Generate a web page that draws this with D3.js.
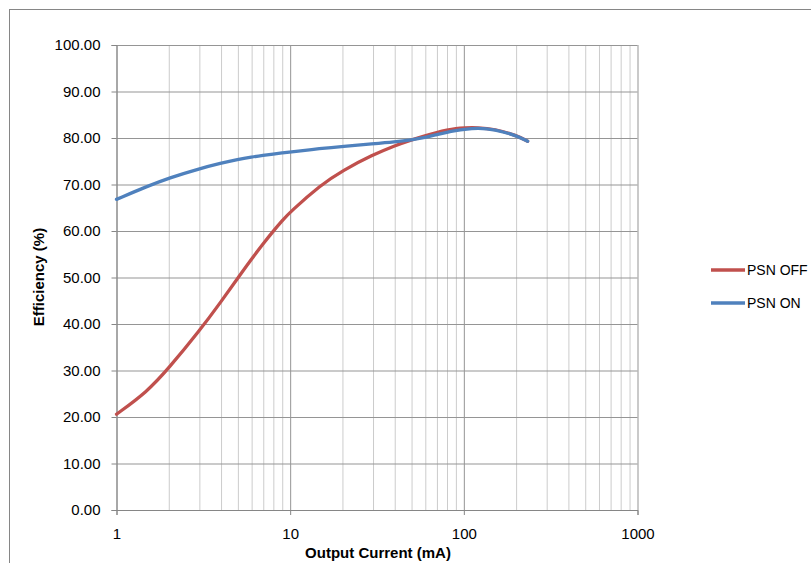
<!DOCTYPE html>
<html>
<head>
<meta charset="utf-8">
<script src="https://cdn.jsdelivr.net/npm/d3@7"></script>
<style>
  html, body { margin: 0; padding: 0; background: #fff; }
  svg { display: block; font-family: "Liberation Sans", Arial, sans-serif; }
</style>
</head>
<body>
<svg id="chart" width="811" height="563"></svg>
<script>
// output current (mA) sample points
const current = [1, 1.5, 2, 3, 4, 5, 6, 7, 8, 9, 10, 15, 20, 30, 40, 50, 60, 70, 80, 90, 100, 120, 150, 200, 233];
// efficiency (%) per series
const psnOff = [20.6, 25.4, 30.5, 38.5, 44.8, 49.9, 54.0, 57.3, 60.0, 62.25, 64.1, 69.9, 73.0, 76.4, 78.35, 79.6, 80.5, 81.2, 81.72, 82.05, 82.19, 82.25, 81.95, 80.6, 79.3];
const psnOn = [66.8, 69.6, 71.4, 73.4, 74.6, 75.4, 75.9, 76.27, 76.56, 76.8, 77.0, 77.75, 78.2, 78.75, 79.15, 79.6, 80.15, 80.75, 81.25, 81.6, 81.87, 82.15, 81.88, 80.55, 79.3];
const seriesNames = ['PSN OFF', 'PSN ON'];
const seriesColors = ['#C0504D', '#4F81BD'];
const xTicks = [1, 10, 100, 1000];
const yTicks = [0, 10, 20, 30, 40, 50, 60, 70, 80, 90, 100];

const svg = d3.select('#chart');

// outer chart frame (cut off at right/bottom like the original)
svg.append('rect')
  .attr('x', 9.5).attr('y', 9.5)
  .attr('width', 900).attr('height', 700)
  .attr('fill', 'none').attr('stroke', '#868686');

const x = d3.scaleLog().domain([1, 1000]).range([116.5, 637.5]);
const y = d3.scaleLinear().domain([0, 100]).range([510, 45]);

// minor vertical grid (2..9 each decade)
const minor = [];
for (let d = 1; d < 1000; d *= 10) for (let k = 2; k <= 9; k++) minor.push(d * k);
svg.append('g')
  .attr('transform', 'translate(0,45)')
  .call(d3.axisBottom(x).tickValues(minor).tickSize(465).tickFormat(''))
  .call(g => g.select('.domain').remove())
  .call(g => g.selectAll('line').attr('stroke', '#cccccc'));

// major vertical grid
svg.append('g')
  .attr('transform', 'translate(0,45)')
  .call(d3.axisBottom(x).tickValues(xTicks).tickSize(465).tickFormat(''))
  .call(g => g.select('.domain').remove())
  .call(g => g.selectAll('line').attr('stroke', '#959595'));

// horizontal grid
svg.append('g')
  .attr('transform', 'translate(116.5,0)')
  .call(d3.axisRight(y).tickValues(yTicks).tickSize(521).tickFormat(''))
  .call(g => g.select('.domain').remove())
  .call(g => g.selectAll('line').attr('stroke', '#959595'));

// y axis
svg.append('g')
  .attr('transform', 'translate(116.5,0)')
  .call(d3.axisLeft(y).tickValues(yTicks).tickSize(5).tickPadding(11).tickFormat(d3.format('.2f')))
  .call(g => g.select('.domain').attr('stroke', '#868686'))
  .call(g => g.selectAll('line').attr('stroke', '#868686'))
  .call(g => g.selectAll('text').attr('font-size', 15).attr('fill', '#000').attr('font-family', null));

// x axis
svg.append('g')
  .attr('transform', 'translate(0,510)')
  .call(d3.axisBottom(x).tickValues(xTicks).tickSize(5).tickPadding(13).tickFormat(d3.format('d')))
  .call(g => g.select('.domain').attr('stroke', '#868686'))
  .call(g => g.selectAll('line').attr('stroke', '#868686'))
  .call(g => g.selectAll('text').attr('font-size', 15).attr('fill', '#000').attr('font-family', null));

// axis titles
svg.append('text')
  .attr('x', 378).attr('y', 558)
  .attr('text-anchor', 'middle')
  .attr('font-size', 15).attr('font-weight', 'bold')
  .text('Output Current (mA)');

svg.append('text')
  .attr('transform', 'translate(44,277) rotate(-90)')
  .attr('text-anchor', 'middle')
  .attr('font-size', 15).attr('font-weight', 'bold')
  .text('Efficiency (%)');

// series lines (smoothed like the spreadsheet original)
const line = d3.line()
  .x(d => x(d[0]))
  .y(d => y(d[1]))
  .curve(d3.curveBasis);

[psnOff, psnOn].forEach((vals, i) => {
  svg.append('path')
    .datum(current.map((c, j) => [c, vals[j]]))
    .attr('d', line)
    .attr('fill', 'none')
    .attr('stroke', seriesColors[i])
    .attr('stroke-width', 3.3)
    .attr('stroke-linecap', 'round');
});

// legend
const legend = svg.append('g').attr('transform', 'translate(711,270)');
seriesNames.forEach((name, i) => {
  const row = legend.append('g').attr('transform', `translate(0,${i * 33})`);
  row.append('line')
    .attr('x1', 0).attr('x2', 34)
    .attr('stroke', seriesColors[i]).attr('stroke-width', 3.3);
  row.append('text')
    .attr('x', 36).attr('dy', '0.35em')
    .attr('font-size', 14)
    .text(name);
});
</script>
</body>
</html>
